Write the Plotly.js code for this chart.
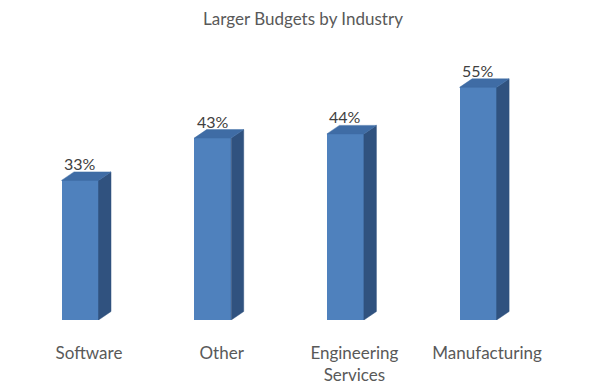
<!DOCTYPE html>
<html>
<head>
<meta charset="utf-8">
<script src="https://cdn.plot.ly/plotly-3.0.1.min.js"></script>
<style>html,body{margin:0;padding:0;background:#fff;}#chart{width:606px;height:389px;}</style>
</head>
<body>
<div id="chart"></div>
<script>
// Data
var categories = ["Software", "Other", "Engineering<br>Services", "Manufacturing"];
var values = [33, 43, 44, 55];
var labels = ["33%", "43%", "44%", "55%"];

// Geometry (axis units)
var pxPerX = 132.7, pxPerY = 4.23;
var W = 37 / pxPerX;          // front face width
var DX = 12.5 / pxPerX;       // depth offset x
var DY = 8.5 / pxPerY;        // depth offset y
var xs = categories.map(function(_, i){ return i; });

var topX = [], topY = [], sideX = [], sideY = [];
xs.forEach(function(x, i){
  var v = values[i];
  var l = x - W/2, r = x + W/2;
  topX.push(l, r, r + DX, l + DX, l, null);
  topY.push(v, v, v + DY, v + DY, v, null);
  sideX.push(r, r, r + DX, r + DX, r, null);
  sideY.push(0, v, v + DY, DY, 0, null);
});

var font = "Lato, 'Open Sans', sans-serif";

var traces = [
  {type: "bar", x: xs, y: values, width: W,
   marker: {color: "#4F81BD", line: {width: 0}}, hoverinfo: "skip", showlegend: false},
  {type: "scatter", mode: "lines", x: sideX, y: sideY, fill: "toself",
   fillcolor: "#30527F", line: {color: "#30527F", width: 0.5}, hoverinfo: "skip", showlegend: false},
  {type: "scatter", mode: "lines", x: topX, y: topY, fill: "toself",
   fillcolor: "#3F6CA5", line: {color: "#3F6CA5", width: 0.5}, hoverinfo: "skip", showlegend: false}
];

var annotations = xs.map(function(x, i){
  return {x: x, y: values[i], xref: "x", yref: "y", text: labels[i], showarrow: false,
          yanchor: "middle", yshift: 17, font: {family: font, size: 16, color: "#404040"}};
});

var layout = {
  width: 606, height: 389,
  margin: {l: 0, r: 0, t: 0, b: 69},
  paper_bgcolor: "#ffffff", plot_bgcolor: "#ffffff",
  title: {text: "Larger Budgets by Industry", x: 0.5, xanchor: "center",
          yref: "container", y: 1 - 19/389, yanchor: "middle",
          font: {family: font, size: 17, color: "#595959"}},
  xaxis: {range: [-80/pxPerX, (606-80)/pxPerX], showgrid: false, zeroline: false, showline: false,
          tickmode: "array", tickvals: xs.map(function(x){ return x + 9/pxPerX; }), ticktext: categories,
          ticks: "", ticklabelstandoff: 21, tickfont: {family: font, size: 17, color: "#595959"}, fixedrange: true},
  yaxis: {range: [0, 320/pxPerY], visible: false, showgrid: false, zeroline: false, fixedrange: true},
  annotations: annotations,
  bargap: 0
};

Plotly.newPlot("chart", traces, layout, {displayModeBar: false, staticPlot: true});
</script>
</body>
</html>
